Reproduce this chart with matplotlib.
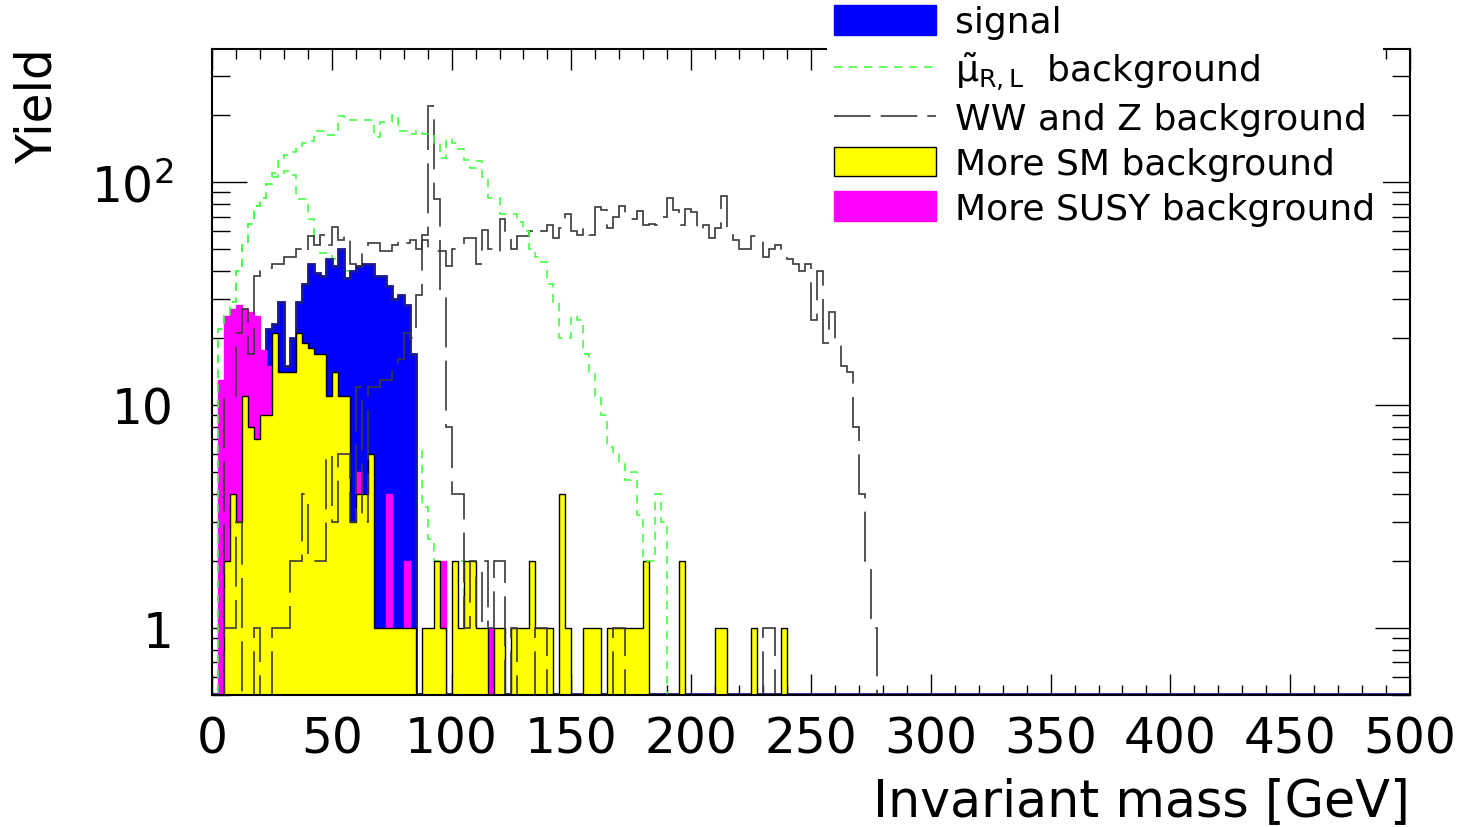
import numpy as np
import matplotlib.pyplot as plt
from matplotlib.patches import Patch
from matplotlib.lines import Line2D
from matplotlib.ticker import FixedLocator, FixedFormatter, MultipleLocator, LogLocator, NullFormatter

plt.rcParams['font.family'] = ['DejaVu Sans']
plt.rcParams['mathtext.fontset'] = 'dejavusans'

# =========================
# Histogram contents (2.5 GeV bins, 0-500 GeV); bins after the listed ones are empty
# =========================
nbins = 200
edges = np.linspace(0, 500, nbins + 1)

signal_vals = [0, 0, 0, 0, 0, 0, 0, 0, 0, 22,
               23, 29, 15, 20, 29, 35, 43, 39, 38, 45,
               42, 50, 37, 40, 42, 43, 43, 38, 38, 34,
               30, 31, 28, 17]

susy_vals = [0, 13, 25, 27, 28, 27, 26, 25, 17.6, 15,
             0, 0, 0, 0, 0, 0, 0, 0, 0, 0,
             0, 0, 0, 0, 5, 0, 0, 0, 0, 4,
             0, 0, 2, 0, 0, 0, 0, 0, 2, 0,
             0, 0, 0, 0, 0, 0, 1]

sm_vals = [0, 0, 2, 4, 3, 11, 8, 7, 9, 9,
           21, 14, 14, 14, 21, 19, 18, 17, 17, 11,
           14, 11, 11, 3, 4, 4, 6, 1, 1, 1,
           1, 1, 1, 1, 0, 1, 1, 2, 1, 0,
           2, 1, 2, 2, 1, 1, 0, 1, 1, 0,
           1, 1, 1, 2, 1, 1, 1, 0, 4, 1,
           0, 0, 1, 1, 1, 0, 1, 1, 1, 1,
           1, 1, 2, 0, 0, 0, 0, 0, 2, 0,
           0, 0, 0, 0, 1, 1, 0, 0, 0, 0,
           1, 0, 0, 0, 0, 1]

# smuon backgrounds (two samples, same style)
smuon_a_vals = [0, 22, 25, 29, 40, 52, 65, 78, 85, 98,
                110, 128, 132, 137, 140, 150, 152, 170, 170, 162,
                162, 198, 195, 190, 190, 190, 190, 160, 185, 185,
                200, 170, 170, 165, 170, 165, 165, 150, 128, 156,
                150, 140, 125, 115, 124, 105, 85, 85, 72, 72,
                72, 66, 60, 50, 46, 44, 35, 29, 20, 20,
                25, 24, 17, 14, 11, 9, 6.5, 6, 5.5, 4.6,
                5, 3.2, 2, 2, 4, 3]

smuon_b_vals = [0, 22, 25, 29, 40, 52, 65, 78, 85, 98,
                105, 107, 112, 108, 84, 84, 68, 58, 48, 48,
                45, 40, 40, 35, 30, 26, 22, 18, 15, 13,
                11, 9, 8, 7, 6.4, 3.5, 2.5, 2, 0, 0,
                0, 2, 1]

# WW and Z backgrounds (same style)
ww_vals = [0, 0, 11, 11, 21, 27, 17, 38, 40, 41,
           43, 43, 46, 46, 50, 48, 57, 52, 58, 52,
           63, 55, 58, 43, 42, 48, 53, 53, 49, 49,
           52, 55, 53, 55, 50, 55, 50, 49, 49, 42,
           50, 50, 56, 56, 43, 61, 50, 48, 68, 60,
           50, 57, 57, 60, 62, 60, 64, 56, 62, 72,
           60, 58, 62, 58, 77, 75, 62, 70, 78, 72,
           68, 74, 64, 65, 64, 70, 85, 75, 64, 76,
           73, 60, 64, 56, 62, 87, 58, 55, 50, 50,
           57, 57, 46, 50, 52, 49, 45, 43, 40, 43,
           24, 40, 19, 26, 19, 15, 14, 8, 4, 2,
           1]

z_vals = [0, 0, 1, 1, 3, 0, 0, 1, 0, 0,
          1, 1, 1, 2, 2, 4, 2, 2, 2, 6,
          3, 6, 6, 3, 12, 3, 12, 12, 13, 13,
          14, 16, 21, 20, 31, 58, 220, 84, 31, 8,
          4, 4, 1, 2, 1, 2, 1, 2, 2, 0,
          1, 0, 0, 0, 1, 1, 0, 0, 0, 0,
          0, 0, 0, 0, 0, 0, 0, 1, 1, 0,
          0, 0, 0, 0, 0, 0, 0, 0, 0, 0,
          0, 0, 0, 0, 0, 0, 0, 0, 0, 0,
          0, 0, 1, 1]

x_ticks = [0, 50, 100, 150, 200, 250, 300, 350, 400, 450, 500]
y_ticks = [1, 10, 100]
y_tick_labels = ["1", "10", r"$10^2$"]


def full(vals):
    return np.pad(np.array(vals, dtype=float), (0, nbins - len(vals)))


signal = full(signal_vals)
susy = full(susy_vals)
sm = full(sm_vals)
smuon_a = full(smuon_a_vals)
smuon_b = full(smuon_b_vals)
ww = full(ww_vals)
zz = full(z_vals)

y_lo, y_hi = 0.5, 395
floor = 1e-2


def line_vals(v):
    return np.where(v > 0, v, floor)


# =========================
# Plot
# =========================
fig = plt.figure(figsize=(14.59, 8.28), dpi=100)
ax = fig.add_axes([0.1453, 0.1594, 0.8211, 0.7802])
ax.set_yscale("log")

green = "#44ff44"
dark = "#3a3a3a"
green_ls = (0, (5, 4))
ww_ls = (0, (30, 8))

# second smuon sample sits under the filled histograms
ax.stairs(line_vals(smuon_b), edges, baseline=floor, color=green, lw=1.2,
          linestyle=green_ls, zorder=1)

ax.stairs(line_vals(signal), edges, baseline=floor, fill=True,
          facecolor="#0000ff", edgecolor="#0000ff", lw=1, zorder=2)
ax.stairs(np.where(signal > 0, signal, y_lo * 1.01), edges, baseline=None,
          color="#1a1a8c", lw=2.0, zorder=2.1)
ax.stairs(line_vals(susy), edges, baseline=floor, fill=True,
          facecolor="#ff00ff", edgecolor="#ff00ff", lw=1, zorder=3)
ax.stairs(line_vals(sm), edges, baseline=floor, fill=True,
          facecolor="#ffff00", edgecolor="none", zorder=4)
ax.stairs(line_vals(sm), edges, baseline=floor, color="black", lw=1.0, zorder=4.1)

ax.stairs(line_vals(zz), edges, baseline=floor, color=dark, lw=1.2,
          linestyle=ww_ls, zorder=5)
ax.stairs(line_vals(ww), edges, baseline=floor, color=dark, lw=1.2,
          linestyle=ww_ls, zorder=5)
ax.stairs(line_vals(smuon_a), edges, baseline=floor, color=green, lw=1.2,
          linestyle=green_ls, zorder=6)

ax.set_xlim(0, 500)
ax.set_ylim(y_lo, y_hi)

ax.xaxis.set_major_locator(FixedLocator(x_ticks))
ax.xaxis.set_minor_locator(MultipleLocator(10))
ax.yaxis.set_major_locator(FixedLocator(y_ticks))
ax.yaxis.set_major_formatter(FixedFormatter(y_tick_labels))
ax.yaxis.set_minor_locator(LogLocator(base=10, subs=np.arange(2, 10)))
ax.yaxis.set_minor_formatter(NullFormatter())

ax.tick_params(which="both", direction="in", top=True, right=True,
               labelsize=35, colors="black", width=1.0)
ax.tick_params(axis="x", which="major", length=15, pad=14)
ax.tick_params(axis="x", which="minor", length=7)
ax.tick_params(axis="y", which="major", length=25, pad=28)
ax.tick_params(axis="y", which="minor", length=13)
for sp in ax.spines.values():
    sp.set_linewidth(1.5)
    sp.set_zorder(10)

ax.set_xlabel("Invariant mass [GeV]", fontsize=36.5, loc="right", labelpad=10)
fig.text(0.0254, 0.942, "Yield", rotation=90, ha="center", va="top", fontsize=35)

handles = [
    Patch(facecolor="#0000ff", edgecolor="#0000ff"),
    Line2D([], [], color=green, lw=1.2, linestyle=green_ls),
    Line2D([], [], color=dark, lw=1.2, linestyle=(0, (22, 6))),
    Patch(facecolor="#ffff00", edgecolor="black", lw=1),
    Patch(facecolor="#ff00ff", edgecolor="#ff00ff"),
]
labels = [
    "signal",
    r"$\tilde{\mathrm{\mu}}_{\mathrm{R,L}}$  background",
    "WW and Z background",
    "More SM background",
    "More SUSY background",
]
leg = fig.legend(handles, labels, loc="upper left", bbox_to_anchor=(0.567, 1.002),
                 frameon=True, facecolor="white", edgecolor="none", framealpha=1,
                 fontsize=26, handlelength=2.8, handleheight=0.9,
                 handletextpad=0.55, labelspacing=0.28, borderpad=0.2,
                 borderaxespad=0)

fig.savefig("out.png", dpi=100)
